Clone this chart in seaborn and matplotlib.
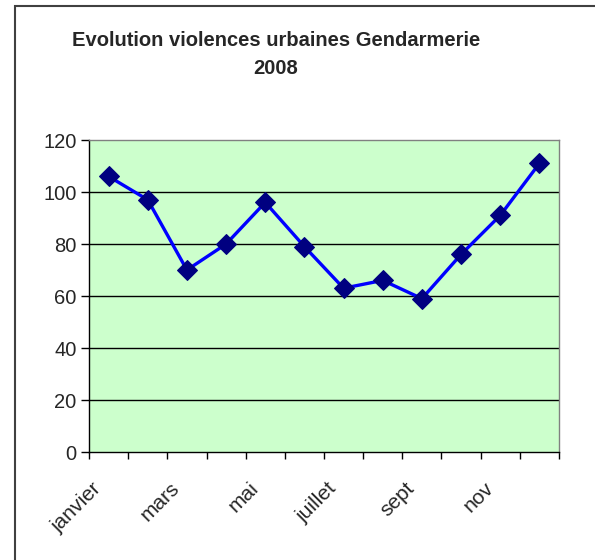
import numpy as np
import pandas as pd
import matplotlib
matplotlib.use("Agg")
import matplotlib.pyplot as plt
import matplotlib.transforms as mtransforms
import seaborn as sns
from matplotlib.patches import Rectangle

# données
mois = ["janvier", "fevrier", "mars", "avril", "mai", "juin",
        "juillet", "aout", "sept", "oct", "nov", "dec"]
valeurs = [106, 97, 70, 80, 96, 79, 63, 66, 59, 76, 91, 111]
etiquettes = ["janvier", "mars", "mai", "juillet", "sept", "nov"]
y_ticks = [0, 20, 40, 60, 80, 100, 120]

df = pd.DataFrame({"pos": np.arange(len(mois)), "valeur": valeurs})

sns.set_style("white")
plt.rcParams['font.family'] = ['Liberation Sans', 'DejaVu Sans']

fig = plt.figure(figsize=(5.95, 5.6), dpi=100)
ax = fig.add_axes([89 / 595, 1 - 452 / 560, 470 / 595, 312 / 560])
ax.set_facecolor("#CCFFCC")

# lignes de grille horizontales
for y in y_ticks[1:-1]:
    ax.axhline(y, color="black", lw=1, zorder=1)

sns.lineplot(data=df, x="pos", y="valeur", ax=ax, color="#0000FF", lw=2.4,
             marker="D", markersize=10, markerfacecolor="#000080",
             markeredgecolor="#000080", zorder=3)

ax.set_xlim(-0.5, 11.5)
ax.set_ylim(0, 120)
ax.set_yticks(y_ticks)
ax.set_xticks(np.arange(0, 12, 2))
ax.set_xticklabels(etiquettes, rotation=45, ha="right", va="center",
                   rotation_mode="anchor")
ax.set_xticks(np.arange(-0.5, 12, 1), minor=True)
ax.tick_params(axis="x", which="major", length=0, pad=24, labelsize=15)
ax.tick_params(axis="x", which="minor", length=5, width=1, color="black",
               direction="out", bottom=True)
ax.tick_params(axis="y", length=6, width=1, color="black", direction="out",
               left=True, labelsize=14.5, pad=3)
ax.set_xlabel("")
ax.set_ylabel("")

# décalage des étiquettes vers la gauche
decal = mtransforms.ScaledTranslation(-0.1, 0, fig.dpi_scale_trans)
for lab in ax.get_xticklabels():
    lab.set_transform(lab.get_transform() + decal)

for side in ["top", "right"]:
    ax.spines[side].set_color("#808080")
    ax.spines[side].set_linewidth(1)
for side in ["left", "bottom"]:
    ax.spines[side].set_color("black")
    ax.spines[side].set_linewidth(1)

fig.text(276 / 595, 1 - 40 / 560, "Evolution violences urbaines Gendarmerie",
         ha="center", va="center", fontsize=14.5, fontweight="bold")
fig.text(276 / 595, 1 - 68 / 560, "2008",
         ha="center", va="center", fontsize=14.5, fontweight="bold")

# cadre du graphique
fig.patches.append(Rectangle((15 / 595, -0.1), 1.2, 1.1 - 6 / 560,
                             transform=fig.transFigure, fill=False,
                             edgecolor="#404040", lw=1.5))

fig.savefig("out.png", dpi=100)
